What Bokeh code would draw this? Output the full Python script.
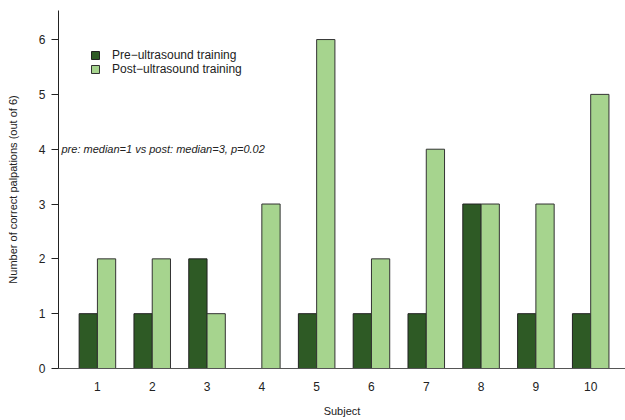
from bokeh.plotting import figure
from bokeh.models import ColumnDataSource, Legend, LegendItem, Label, FixedTicker, Range1d
from bokeh.embed import file_html
from bokeh.resources import INLINE

subjects = [1, 2, 3, 4, 5, 6, 7, 8, 9, 10]
pre_training = [1, 1, 2, 0, 1, 1, 1, 3, 1, 1]
post_training = [2, 2, 1, 3, 6, 2, 4, 3, 3, 5]
y_ticks = [0, 1, 2, 3, 4, 5, 6]
series_names = ["Pre\u2212ultrasound training", "Post\u2212ultrasound training"]
annotation_text = "pre: median=1 vs post: median=3, p=0.02"

DARK = "#2e5a25"
LIGHT = "#a6d48e"
FONT = "Liberation Sans"

src = ColumnDataSource(dict(
    x_pre=[s - 1/6 for s in subjects],
    x_post=[s + 1/6 for s in subjects],
    pre=pre_training,
    post=post_training,
))

p = figure(width=625, height=420, output_backend="svg", toolbar_location=None,
           x_range=Range1d(0.29, 10.635), y_range=Range1d(0, 6.53),
           min_border_left=58, min_border_right=0, min_border_top=10, min_border_bottom=52)
p.outline_line_color = None
p.xgrid.visible = False
p.ygrid.visible = False
p.background_fill_color = "white"

r_pre = p.vbar(x="x_pre", top="pre", width=1/3, source=src, fill_color=DARK,
               line_color="#222222", line_width=1)
r_post = p.vbar(x="x_post", top="post", width=1/3, source=src, fill_color=LIGHT,
                line_color="#333333", line_width=1)

# Axes
p.xaxis.ticker = FixedTicker(ticks=subjects)
p.xaxis.major_tick_out = 0
p.xaxis.major_tick_in = 0
p.xaxis.minor_tick_out = 0
p.xaxis.minor_tick_in = 0
p.xaxis.major_label_standoff = 13
p.xaxis.axis_line_color = "#555555"
p.xaxis.axis_label = "Subject"
p.xaxis.axis_label_standoff = 11
p.xaxis.axis_label_text_font_style = "normal"
p.xaxis.axis_label_text_font_size = "11px"
p.xaxis.axis_label_text_font = FONT
p.xaxis.axis_label_text_color = "#222222"

p.yaxis.ticker = FixedTicker(ticks=y_ticks)
p.yaxis.major_tick_out = 7
p.yaxis.major_tick_in = 0
p.yaxis.minor_tick_out = 0
p.yaxis.minor_tick_in = 0
p.yaxis.major_label_standoff = 6
p.yaxis.axis_line_color = "#222222"
p.yaxis.major_tick_line_color = "#222222"
p.yaxis.axis_label = "Number of correct palpations (out of 6)"
p.yaxis.axis_label_standoff = 17
p.yaxis.axis_label_text_font_style = "normal"
p.yaxis.axis_label_text_font_size = "11px"
p.yaxis.axis_label_text_font = FONT
p.yaxis.axis_label_text_color = "#222222"

for ax in (p.xaxis, p.yaxis):
    ax.major_label_text_font = FONT
    ax.major_label_text_font_size = "12px"
    ax.major_label_text_color = "#222222"

legend = Legend(items=[LegendItem(label=series_names[0], renderers=[r_pre]),
                       LegendItem(label=series_names[1], renderers=[r_post])],
                location=(32, 292))
legend.margin = 0
legend.padding = 0
legend.border_line_alpha = 0
legend.background_fill_alpha = 0
legend.glyph_width = 10
legend.glyph_height = 10
legend.label_height = 10
legend.spacing = 0
legend.label_standoff = 12
legend.label_text_font = FONT
legend.label_text_font_size = "12px"
legend.label_text_color = "#222222"
p.add_layout(legend)

ann = Label(x=0.29, y=4, x_offset=3, text=annotation_text, text_font=FONT,
            text_font_size="11px", text_font_style="italic", text_baseline="middle",
            text_color="#222222")
p.add_layout(ann)

open("out.html", "w").write(file_html(p, INLINE))
